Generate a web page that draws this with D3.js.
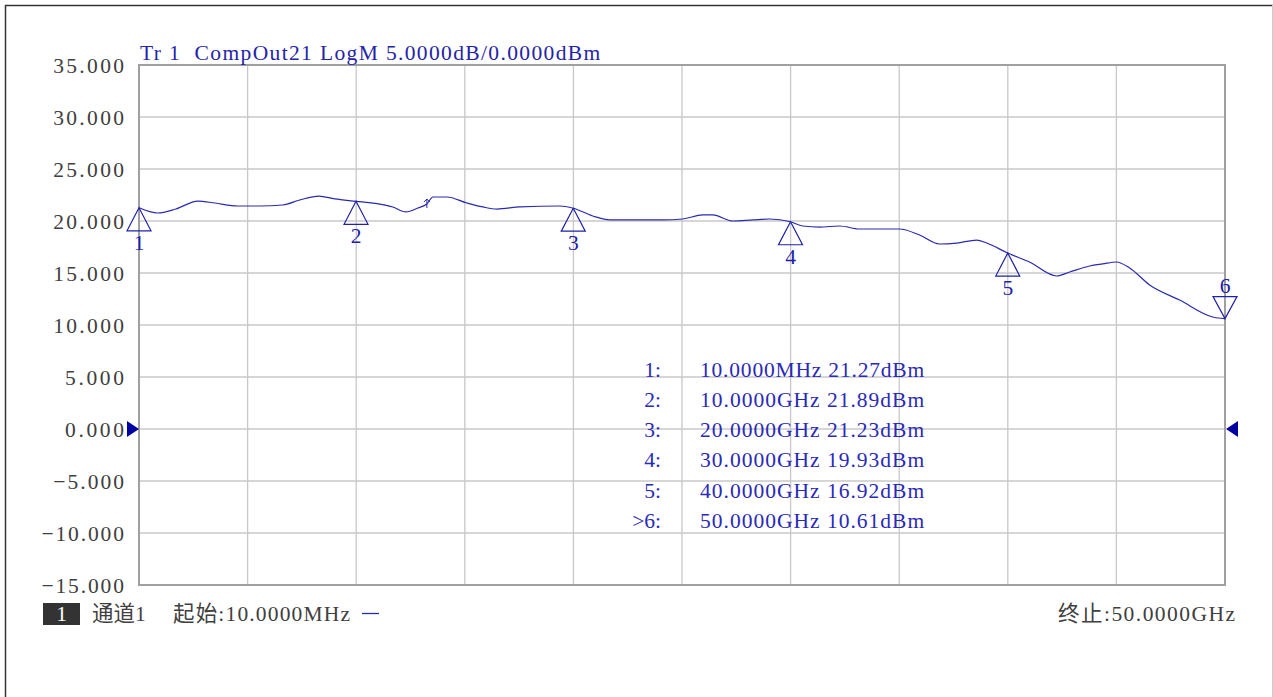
<!DOCTYPE html>
<html><head><meta charset="utf-8">
<script src="https://cdn.jsdelivr.net/npm/d3@7"></script>
<style>
html,body{margin:0;padding:0;background:#fff;}
svg text{font-family:"Liberation Serif","Noto Sans CJK SC",serif;}
</style></head>
<body>
<svg id="c" width="1273" height="697"></svg>
<script>
// ---- data ----
const freqGHz = [0.01,0.87,1.70,2.72,3.50,4.56,5.57,6.63,7.41,8.29,9.02,10.0,11.10,11.69,12.29,12.85,13.26,13.54,14.18,15.10,15.84,16.48,17.54,19.38,20.0,20.90,21.68,24.12,25.04,25.96,26.42,27.34,28.26,29.04,30.0,30.56,31.34,32.26,33.18,35.02,35.94,36.86,37.65,38.57,39.03,40.0,41.0,42.25,42.85,43.77,44.37,45.01,45.61,46.53,47.91,49.43,50.0];
const traceDb = [21.27,20.77,21.15,21.92,21.73,21.44,21.44,21.54,22.02,22.40,22.12,21.89,21.63,21.35,20.87,21.25,21.63,22.31,22.31,21.73,21.35,21.15,21.35,21.44,21.23,20.48,20.10,20.10,20.19,20.58,20.58,20.00,20.10,20.19,19.93,19.52,19.42,19.52,19.23,19.23,18.65,17.79,17.88,18.17,17.88,16.92,16.06,14.71,15.10,15.67,15.87,16.06,15.48,13.85,12.40,10.77,10.61];
const markerIds = [1,2,3,4,5,6];
const markerFreqGHz = [0.01,10,20,30,40,50];
const markerDb = [21.27,21.89,21.23,19.93,16.92,10.61];
const markerFreqLabels = ["10.0000MHz","10.0000GHz","20.0000GHz","30.0000GHz","40.0000GHz","50.0000GHz"];
const markerValLabels = ["21.27dBm","21.89dBm","21.23dBm","19.93dBm","16.92dBm","10.61dBm"];
const activeMarker = 6;
const yTicks = [35,30,25,20,15,10,5,0,-5,-10,-15];
const xDivisions = 10;
const titleText = "Tr 1  CompOut21 LogM 5.0000dB/0.0000dBm";
const refLevel = 0;
const arrowFreqGHz = 13.26, arrowDb = 21.63;
const channelLabel = "通道1";
const startLabel = "起始:10.0000MHz";
const stopLabel = "终止:50.0000GHz";

// ---- layout ----
const svg = d3.select("#c");
const L = 139, R = 1225, T = 65, B = 585;
const x = d3.scaleLinear().domain([0.01, 50]).range([L, R]);
const y = d3.scaleLinear().domain([-15, 35]).range([B, T]);
const FS = 21.5;
const CW = 11.8; // half-width cell
const cellLen = s => Array.from(s).reduce((a,c)=>a + (c.charCodeAt(0) > 0x2e80 ? 2 : 1), 0) * CW;
function txt(parent, s, opts) {
  const t = parent.append("text").attr("font-size",FS).attr("xml:space","preserve").style("white-space","pre")
    .attr("textLength", opts.len || cellLen(s)).attr("lengthAdjust","spacing");
  for (const k in opts) if (k !== "len") t.attr(k, opts[k]);
  return t.text(s);
}

// outer frame
svg.append("line").attr("x1",5).attr("x2",1273).attr("y1",5.5).attr("y2",5.5).attr("stroke","#333").attr("stroke-width",1.5);
svg.append("line").attr("x1",5.5).attr("x2",5.5).attr("y1",5).attr("y2",697).attr("stroke","#333").attr("stroke-width",1.5);
svg.append("line").attr("x1",1272.5).attr("x2",1272.5).attr("y1",5).attr("y2",697).attr("stroke","#ccc").attr("stroke-width",1);

// grid
const g = svg.append("g");
g.selectAll("line.h").data(yTicks).join("line")
  .attr("x1",L).attr("x2",R).attr("y1",d=>y(d)).attr("y2",d=>y(d))
  .attr("stroke","#c8c8c8").attr("stroke-width",1.3);
const xGrid = d3.range(1, xDivisions).map(i => x.domain()[0] + i*(x.domain()[1]-x.domain()[0])/xDivisions);
g.selectAll("line.v").data(xGrid).join("line")
  .attr("x1",d=>x(d)).attr("x2",d=>x(d)).attr("y1",T).attr("y2",B)
  .attr("stroke","#c8c8c8").attr("stroke-width",1.3);
g.append("rect").attr("x",L).attr("y",T).attr("width",R-L).attr("height",B-T)
  .attr("fill","none").attr("stroke","#a0a0a0").attr("stroke-width",2);

// y axis labels
const yl = svg.append("g");
yTicks.forEach(d=>{
  const s = d3.format(".3f")(d).replace("-","\u2212");
  txt(yl, s, {x:124 - cellLen(s), y:y(d)+7.5, fill:"#404040"});
});

// title
txt(svg, titleText, {x:140, y:60, fill:"#2424a8"});

// trace
const line = d3.line().x((d,i)=>x(freqGHz[i])).y(d=>y(d)).curve(d3.curveMonotoneX);
svg.append("path").datum(traceDb).attr("d",line).attr("fill","none")
  .attr("stroke","#2a2ab0").attr("stroke-width",1.2).attr("stroke-linejoin","round");

// small arrow annotation
const ax = x(arrowFreqGHz), ay = y(arrowDb);
svg.append("path").attr("d",`M${ax},${ay+4}V${ay-5}M${ax-3},${ay-2}L${ax},${ay-5}L${ax+3},${ay-2}`)
  .attr("fill","none").attr("stroke","#2a2ab0").attr("stroke-width",1);

// reference arrows
svg.append("path").attr("d",`M${L-12},${y(refLevel)-8}L${L},${y(refLevel)}L${L-12},${y(refLevel)+8}Z`).attr("fill","#0000a0");
svg.append("path").attr("d",`M${R+13},${y(refLevel)-8}L${R+1},${y(refLevel)}L${R+13},${y(refLevel)+8}Z`).attr("fill","#0000a0");

// markers
const mk = svg.append("g");
markerIds.forEach((id,i)=>{
  const mx = x(markerFreqGHz[i]), my = y(markerDb[i]);
  const down = id === activeMarker;
  const h = down ? -22 : 23;
  mk.append("path").attr("d",`M${mx},${my}L${mx-12},${my+h}L${mx+12},${my+h}Z`)
    .attr("fill","none").attr("stroke","#2020a8").attr("stroke-width",1.2);
  mk.append("text").attr("x",mx).attr("y", down ? my+h-4 : my+h+19)
    .attr("text-anchor","middle").attr("font-size",FS).attr("fill","#2020a8").text(id);
});

// marker table
const rowY = i => 376.5 + i*30.3;
const tb = svg.append("g");
markerIds.forEach((id,i)=>{
  const lab = (id===activeMarker?">":"")+id+":";
  tb.append("text").attr("x",661).attr("y",rowY(i)).attr("text-anchor","end")
    .attr("font-size",FS).attr("fill","#2a2ab8").text(lab);
  txt(tb, markerFreqLabels[i]+" "+markerValLabels[i], {x:700, y:rowY(i), fill:"#2a2ab8"});
});

// bottom status
svg.append("rect").attr("x",43).attr("y",603).attr("width",37).attr("height",22).attr("fill","#333");
svg.append("text").attr("x",61.5).attr("y",621).attr("text-anchor","middle").attr("font-size",FS).attr("fill","#fff").text("1");
svg.append("text").attr("x",92).attr("y",621).attr("font-size",FS).attr("fill","#404040").text(channelLabel);
txt(svg, startLabel, {x:173, y:621, fill:"#404040"});
svg.append("line").attr("x1",362).attr("x2",379).attr("y1",613.5).attr("y2",613.5).attr("stroke","#2a2ab8").attr("stroke-width",1.3);
txt(svg, stopLabel, {x:1235 - cellLen(stopLabel), y:621, fill:"#404040"});
</script>
</body></html>
